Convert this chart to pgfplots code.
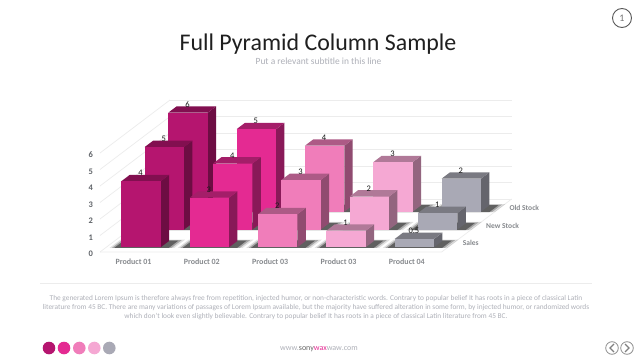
\documentclass[border=0pt]{standalone}
\usepackage{fontspec}
\usepackage{pgfplots}
\pgfplotsset{compat=1.18}
\setmainfont{Carlito}
\definecolor{cA}{HTML}{B5156F}\definecolor{cB}{HTML}{E42A92}\definecolor{cC}{HTML}{F07DBA}\definecolor{cD}{HTML}{F5A8D3}\definecolor{cE}{HTML}{A9A9B5}
\definecolor{txt}{HTML}{5F6368}\definecolor{para}{HTML}{AEB0B8}\definecolor{gridc}{HTML}{ECECEC}
% shadow layer: x0 x1 y0 y1 opacity
\newcommand{\ShadowLayer}[5]{\addplot3[fill=black,draw=none,opacity=#5,forget plot] coordinates {(#1,#3,0)(#2,#3,0)(#2,#4,0)(#1,#4,0)} --cycle;}
% x0 x1 y0 y1 value colour
\newcommand{\BarBox}[6]{%
 \pgfmathsetmacro{\fy}{#3-0.03}%
 \pgfmathsetmacro{\sa}{#1-0.16}\pgfmathsetmacro{\sb}{#2+0.21}\pgfmathsetmacro{\sc}{#4+0.07}%
 \ShadowLayer{\sa}{\sb}{\fy}{\sc}{0.12}%
 \pgfmathsetmacro{\sa}{#1-0.125}\pgfmathsetmacro{\sb}{#2+0.17}\pgfmathsetmacro{\sc}{#4+0.04}%
 \ShadowLayer{\sa}{\sb}{\fy}{\sc}{0.25}%
 \pgfmathsetmacro{\sa}{#1-0.09}\pgfmathsetmacro{\sb}{#2+0.13}\pgfmathsetmacro{\sc}{#4+0.01}%
 \ShadowLayer{\sa}{\sb}{\fy}{\sc}{0.42}%
 \addplot3[fill=#6!60!black,draw=none,forget plot] coordinates {(#2,#3,0)(#2,#4,0)(#2,#4,#5)(#2,#3,#5)} --cycle;
 \addplot3[fill=#6!72!black,draw=none,forget plot] coordinates {(#1,#3,#5)(#2,#3,#5)(#2,#4,#5)(#1,#4,#5)} --cycle;
 \addplot3[fill=#6,draw=none,forget plot] coordinates {(#1,#3,0)(#2,#3,0)(#2,#3,#5)(#1,#3,#5)} --cycle;
}
\newcommand{\ValLabel}[4]{\node[font=\fontsize{8.5}{9}\selectfont,text=black!90,inner sep=0pt] at (axis cs:#1,#2,#3) {#4};}
\begin{document}
\begin{tikzpicture}[x=1pt,y=1pt]
\fill[white] (0,0) rectangle (640,360);
\useasboundingbox (0,0) rectangle (640,360);
\begin{axis}[
 at={(100pt,108pt)},anchor=origin,
 x={(68.33pt,0pt)},y={(23.33pt,17.67pt)},z={(0pt,16.5pt)},
 xmin=0,xmax=5,ymin=0,ymax=3,zmin=0,zmax=6,
 clip=false,
 axis line style={draw=none},
 tick style={draw=none},
 xtick={0.5,1.5,2.5,3.5,4.5},
 xticklabels={Product 01,Product 02,Product 03,Product 03,Product 04},
 ytick={0.5,1.5,2.5},
 yticklabels={Sales,New Stock,Old Stock},
 ztick={0,1,2,3,4,5,6},
 zmajorgrids=true,
 major grid style={gridc,line width=0.7pt},
 xticklabel style={font=\fontsize{8}{10}\selectfont\bfseries,text=txt!75,xshift=2.5pt,yshift=-3.5pt},
 yticklabel style={font=\fontsize{7.5}{9}\selectfont\bfseries,text=txt!75,anchor=west,xshift=6pt},
 zticklabel style={font=\fontsize{8.5}{10}\selectfont\bfseries,text=txt,xshift=-3.5pt,/pgf/number format/assume math mode=true},
]
\addplot3[draw=gridc,line width=.7pt,forget plot] coordinates {(0,0,0)(5,0,0)(5,3,0)};
% Old Stock
\BarBox{0.22}{0.797}{2.28}{2.64}{6}{cA}
\BarBox{1.22}{1.797}{2.28}{2.64}{5}{cB}
\BarBox{2.22}{2.797}{2.28}{2.64}{4}{cC}
\BarBox{3.22}{3.797}{2.28}{2.64}{3}{cD}
\BarBox{4.22}{4.797}{2.28}{2.64}{2}{cE}
% New Stock
\BarBox{0.22}{0.797}{1.27}{1.63}{5}{cA}
\BarBox{1.22}{1.797}{1.27}{1.63}{4}{cB}
\BarBox{2.22}{2.797}{1.27}{1.63}{3}{cC}
\BarBox{3.22}{3.797}{1.27}{1.63}{2}{cD}
\BarBox{4.22}{4.797}{1.27}{1.63}{1}{cE}
% Sales
\BarBox{0.22}{0.797}{0.27}{0.63}{4}{cA}
\BarBox{1.22}{1.797}{0.27}{0.63}{3}{cB}
\BarBox{2.22}{2.797}{0.27}{0.63}{2}{cC}
\BarBox{3.22}{3.797}{0.27}{0.63}{1}{cD}
\BarBox{4.22}{4.797}{0.27}{0.63}{0.5}{cE}
\ValLabel{0.44}{2.46}{6.3}{6}\ValLabel{1.44}{2.46}{5.3}{5}\ValLabel{2.44}{2.46}{4.3}{4}\ValLabel{3.44}{2.46}{3.3}{3}\ValLabel{4.44}{2.46}{2.3}{2}
\ValLabel{0.44}{1.45}{5.3}{5}\ValLabel{1.44}{1.45}{4.3}{4}\ValLabel{2.44}{1.45}{3.3}{3}\ValLabel{3.44}{1.45}{2.3}{2}\ValLabel{4.44}{1.45}{1.3}{1}
\ValLabel{0.44}{0.45}{4.3}{4}\ValLabel{1.44}{0.45}{3.3}{3}\ValLabel{2.44}{0.45}{2.3}{2}\ValLabel{3.44}{0.45}{1.3}{1}\ValLabel{4.44}{0.45}{0.8}{0.5}
\end{axis}
% slide furniture (image y = 360 - y)
\node[font=\fontsize{23.9}{28}\selectfont,text=black!88] at (318,316) {Full Pyramid Column Sample};
\node[font=\fontsize{9.45}{12}\selectfont,text=para] at (318.5,299) {Put a relevant subtitle in this line};
\draw[gridc,line width=.8pt] (40,77) -- (592,77);
\node[font=\fontsize{7.36}{9}\selectfont,text=para,align=center,inner sep=0pt] at (316,52) {The generated Lorem Ipsum is therefore always free from repetition, injected humor, or non-characteristic words. Contrary to popular belief It has roots in a piece of classical Latin\\literature from 45 BC. There are many variations of passages of Lorem Ipsum available, but the majority have suffered alteration in some form, by injected humor, or randomized words\\which don't look even slightly believable. Contrary to popular belief It has roots in a piece of classical Latin literature from 45 BC.};
\fill[cA] (49,12) circle (6.3);\fill[cB] (64,12) circle (6.3);\fill[cC] (79.3,12) circle (6.3);\fill[cD] (94.3,12) circle (6.3);\fill[cE] (109.3,12) circle (6.3);
\node[font=\fontsize{8}{10}\selectfont,text=para] at (319,11) {www.\textcolor{black!60}{sony}\textcolor{cB}{wax}\textcolor{para}{waw}.com};
\draw[black!45,line width=.8pt] (612,12) circle (6.3);
\draw[black!45,line width=.8pt] (627,12) circle (6.3);
\draw[black!50,line width=1.3pt] (614,16) -- (610,12) -- (614,8);
\draw[black!50,line width=1.3pt] (625,16) -- (629,12) -- (625,8);
\draw[black!65,line width=.9pt] (622,342) circle (9.5);
\node[font=\fontsize{10}{12}\selectfont,text=black!55] at (622,342) {1};
\end{tikzpicture}
\end{document}
